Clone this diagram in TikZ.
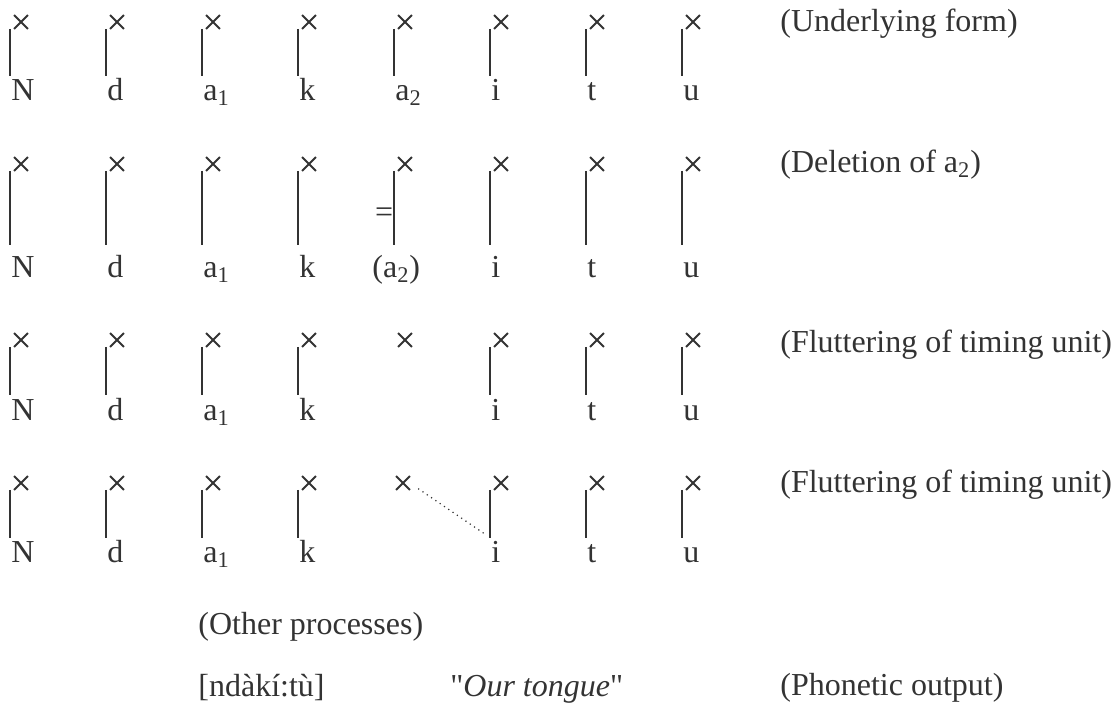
\documentclass[tikz,border=0pt]{standalone}
\usepackage{fontspec}
\setmainfont{Liberation Serif}
\usetikzlibrary{shapes.misc}
\definecolor{ink}{HTML}{333333}

\begin{document}
\begin{tikzpicture}[x=.5pt, y=-.5pt,
    font=\fontsize{16}{19}\selectfont, color=ink,
    unit/.style={cross out, draw, line width=.9pt, minimum size=6pt, inner sep=0pt},
    seg/.style={anchor=base west, inner sep=0pt, text depth=0pt},
    assoc/.style={line width=.9pt},
    note/.style={anchor=base west, inner sep=0pt}]

    \useasboundingbox (0,0) rectangle (1115,713);

    % timing tier over the melody, one row per step
    \foreach \row/\ty/\tb/\th in {1/22/100/12pt, 2/164/277/16pt, 3/340/420/12.5pt, 4/483/562/12pt}{%
        \foreach \col/\sym in {1/N, 2/d, 3/a\textsubscript{1}, 4/k, 6/i, 7/t, 8/u}{%
            \node [unit] (u\row-\col) at ({96*\col-75},\ty) {};
            \node [seg, text height=\th] (s\row-\col) at ({96*\col-85},\tb) {\sym};
            \draw [assoc] ([xshift=-2pt]u\row-\col.south west)
                -- ([xshift=-2pt]u\row-\col.south west |- s\row-\col.north);}}

    % the fifth slot
    \node [unit] (u1-5) at (405,22) {};
    \node [seg, text height=12pt] (s1-5) at (395,100) {a\textsubscript{2}};
    \draw [assoc] ([xshift=-2pt]u1-5.south west) -- ([xshift=-2pt]u1-5.south west |- s1-5.north);

    \node [unit] (u2-5) at (405,164) {};
    \node [seg, text height=16pt] (s2-5) at (372,277) {(a\textsubscript{2})};
    \draw [assoc] ([xshift=-2pt]u2-5.south west)
        -- node [pos=.6, anchor=east, inner sep=0pt] (cut) {=}
        ([xshift=-2pt]u2-5.south west |- s2-5.north);

    \node [unit] (u3-5) at (405,340) {};

    \node [unit] (u4-5) at (403,483) {};
    \draw [dotted, line width=.6pt, shorten <=5pt, shorten >=2pt] (u4-5.east)
        -- ([xshift=-2pt]u4-6.south west |- s4-6.north);

    % step labels
    \node [note] (n1) at (780,31)  {(Underlying form)};
    \node [note] (n2) at (780,172) {(Deletion of a\textsubscript{2})};
    \node [note] (n3) at (780,352) {(Fluttering of timing unit)};
    \node [note] (n4) at (780,492) {(Fluttering of timing unit)};

    \node [note] (other) at (198,634) {(Other processes)};
    \node [note] (ipa)   at (198,696) {[ndàkí:tù]};
    \node [note] (gloss) at (450,696) {\textquotedbl\textit{Our tongue}\textquotedbl};
    \node [note] (out)   at (780,695) {(Phonetic output)};
\end{tikzpicture}
\end{document}
